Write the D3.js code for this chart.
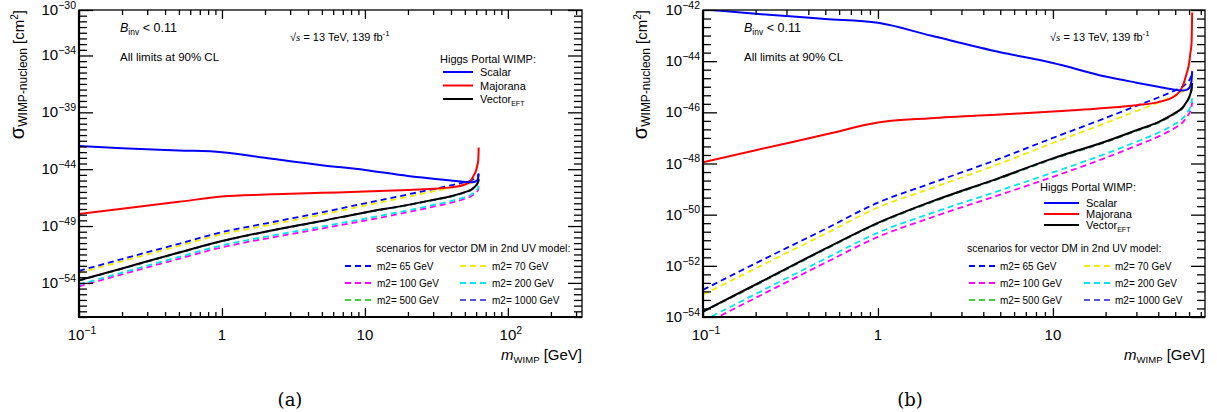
<!DOCTYPE html>
<html>
<head>
<meta charset="utf-8">
<script src="https://cdn.jsdelivr.net/npm/d3@7.9.0/dist/d3.min.js"></script>
<style>
  body { margin: 0; background: #fff; }
  svg { font-family: "Liberation Sans", Arial, sans-serif; }
  text { fill: #000; }
</style>
</head>
<body>
<svg id="chart" width="1217" height="412"></svg>
<script>
// WIMP mass points [GeV]
const masses = [0.1, 0.2, 0.5, 1, 2, 5, 10, 20, 30, 40, 50, 55, 58, 60, 61, 62, 62.5];

// log10(sigma_WIMP-nucleon / cm^2)
const scalar   = [-41.97, -42.15, -42.35, -42.5, -43.0, -43.65, -44.07, -44.6, -44.84, -45.0, -45.12, -45.15, -45.12, -45.05, -44.97, -44.75, -44.4];
const majorana = [-47.95, -47.48, -46.87, -46.4, -46.23, -46.08, -45.97, -45.83, -45.72, -45.6, -45.35, -45.0, -44.5, -44.1, -43.7, -43.3, -42.1];
const vectorEFT = [-53.78, -52.73, -51.33, -50.32, -49.5, -48.55, -47.8, -47.14, -46.7, -46.38, -46.02, -45.82, -45.6, -45.42, -45.28, -45.08, -44.85];

// 2nd UV model scenarios
const m2_65   = [-52.94, -51.9, -50.56, -49.53, -48.78, -47.8, -47.0, -46.22, -45.75, -45.42, -45.14, -45.0, -44.87, -44.76, -44.67, -44.52, -44.38];
const m2_70   = [-53.13, -52.1, -50.75, -49.72, -48.98, -48.0, -47.2, -46.42, -45.95, -45.62, -45.34, -45.2, -45.07, -44.97, -44.88, -44.74, -44.6];
const m2_100  = [-54.3, -53.25, -51.88, -50.87, -50.12, -49.22, -48.52, -47.78, -47.3, -46.95, -46.6, -46.4, -46.2, -46.05, -45.95, -45.78, -45.6];
const m2_200  = [-54.15, -53.1, -51.72, -50.7, -49.95, -49.05, -48.35, -47.62, -47.15, -46.8, -46.45, -46.25, -46.05, -45.9, -45.8, -45.62, -45.45];
const m2_500  = [-53.8, -52.76, -51.36, -50.35, -49.53, -48.58, -47.83, -47.17, -46.73, -46.41, -46.05, -45.85, -45.63, -45.45, -45.31, -45.11, -44.88];
const m2_1000 = [-53.79, -52.74, -51.34, -50.33, -49.51, -48.56, -47.81, -47.15, -46.71, -46.39, -46.03, -45.83, -45.61, -45.43, -45.29, -45.09, -44.86];

const mainNames = ['Scalar', 'Majorana', 'Vector'];
const scenarioNames = ['m2= 65 GeV', 'm2= 70 GeV', 'm2= 100 GeV', 'm2= 200 GeV', 'm2= 500 GeV', 'm2= 1000 GeV'];

const yLabelsA = [-30, -34, -39, -44, -49, -54];
const yLabelsB = [-42, -44, -46, -48, -50, -52, -54];

const mainSeries = [
  { name: 'Scalar', values: scalar, color: '#0000ff' },
  { name: 'Majorana', values: majorana, color: '#ff0000' },
  { name: 'Vector', values: vectorEFT, color: '#000000' },
];
// legend order (2 columns, row by row)
const scenSeries = [
  { values: m2_65, color: '#0000ff' },
  { values: m2_70, color: '#f2ea00' },
  { values: m2_100, color: '#ff00ff' },
  { values: m2_200, color: '#00e5ee' },
  { values: m2_500, color: '#44cc44' },
  { values: m2_1000, color: '#5555dd' },
];

const svg = d3.select('#chart');

const panels = [
  { id: 'a', left: 79, right: 582, top: 10, bottom: 317, xDomain: [0.1, 330], yDomain: [-57, -30],
    yLabels: yLabelsA, yStep: 0.5, xLabels: [[0.1, '10', '−1'], [1, '1'], [10, '10'], [100, '10', '2']],
    titleX: 24, caption: '(a)', capX: 290,
    binv: [120, 32], cl: [120, 61], ecm: [290, 41],
    leg: { x: 440, y: 63, lx: 443, lw: 30, row0: 72, dy: 13.5 },
    scen: { x: 376, y: 252, c1: 345, c2: 460, lw: 27, row0: 266, dy: 17 } },
  { id: 'b', left: 703, right: 1205, top: 10, bottom: 317, xDomain: [0.1, 74], yDomain: [-54, -42],
    yLabels: yLabelsB, yStep: 1 / 3, xLabels: [[0.1, '10', '−1'], [1, '1'], [10, '10']],
    titleX: 647, caption: '(b)', capX: 910,
    binv: [744, 32], cl: [744, 61], ecm: [1050, 41],
    leg: { x: 1040, y: 191, lx: 1044, lw: 35, row0: 203, dy: 11 },
    scen: { x: 967, y: 252, c1: 969, c2: 1084, lw: 26, row0: 266, dy: 17 } },
];

function supText(g, x, y, base, exp, anchor, size) {
  const t = g.append('text').attr('x', x).attr('y', y)
    .attr('text-anchor', anchor).attr('font-size', size);
  t.append('tspan').text(base);
  if (exp) t.append('tspan').attr('dy', -size * 0.42).attr('font-size', size * 0.7).text(exp);
  return t;
}

panels.forEach(p => {
  const x = d3.scaleLog().domain(p.xDomain).range([p.left, p.right]);
  const y = d3.scaleLinear().domain(p.yDomain).range([p.bottom, p.top]);
  const g = svg.append('g');

  g.append('clipPath').attr('id', 'clip' + p.id)
    .append('rect').attr('x', p.left).attr('y', p.top)
    .attr('width', p.right - p.left).attr('height', p.bottom - p.top);

  const line = d3.line()
    .x((d, i) => x(masses[i]))
    .y(d => y(d))
    .curve(d3.curveMonotoneX);

  const plot = g.append('g').attr('clip-path', `url(#clip${p.id})`);

  // dashed scenarios under the solid curves (draw 500/1000 first, then others)
  const scenOrder = [4, 5, 2, 3, 1, 0];
  plot.selectAll('path.scen')
    .data(scenOrder.map(i => scenSeries[i]))
    .join('path')
      .attr('class', 'scen')
      .attr('d', d => line(d.values))
      .attr('fill', 'none')
      .attr('stroke', d => d.color)
      .attr('stroke-width', 1.8)
      .attr('stroke-dasharray', '6,4');

  plot.selectAll('path.main')
    .data([mainSeries[2], mainSeries[1], mainSeries[0]])
    .join('path')
      .attr('class', 'main')
      .attr('d', d => line(d.values))
      .attr('fill', 'none')
      .attr('stroke', d => d.color)
      .attr('stroke-width', 2);

  // x ticks (inward, bottom and top)
  const majors = [0.1, 1, 10, 100].filter(v => v >= p.xDomain[0] && v <= p.xDomain[1]);
  const minors = [];
  [0.1, 1, 10, 100].forEach(dec => {
    for (let k = 2; k <= 9; k++) if (dec * k <= p.xDomain[1]) minors.push(dec * k);
  });
  g.append('g').attr('transform', `translate(0,${p.bottom})`).call(d3.axisBottom(x).tickValues(majors).tickSize(-9).tickFormat(''));
  g.append('g').attr('transform', `translate(0,${p.bottom})`).call(d3.axisBottom(x).tickValues(minors).tickSize(-5).tickFormat(''));
  g.append('g').attr('transform', `translate(0,${p.top})`).call(d3.axisTop(x).tickValues(majors).tickSize(-9).tickFormat(''));
  g.append('g').attr('transform', `translate(0,${p.top})`).call(d3.axisTop(x).tickValues(minors).tickSize(-5).tickFormat(''));

  // y ticks
  const yAll = d3.range(p.yDomain[0], p.yDomain[1] + 1e-6, p.yStep);
  const yMaj = yAll.filter(v => p.yLabels.some(l => Math.abs(l - v) < 1e-6));
  const yMin = yAll.filter(v => !yMaj.some(l => Math.abs(l - v) < 1e-6));
  g.append('g').attr('transform', `translate(${p.left},0)`).call(d3.axisLeft(y).tickValues(yMaj).tickSize(-14).tickFormat(''));
  g.append('g').attr('transform', `translate(${p.left},0)`).call(d3.axisLeft(y).tickValues(yMin).tickSize(-8).tickFormat(''));
  g.append('g').attr('transform', `translate(${p.right},0)`).call(d3.axisRight(y).tickValues(yMaj).tickSize(-14).tickFormat(''));
  g.append('g').attr('transform', `translate(${p.right},0)`).call(d3.axisRight(y).tickValues(yMin).tickSize(-8).tickFormat(''));

  g.selectAll('.domain').remove();
  g.selectAll('.tick line').attr('stroke', '#000').attr('stroke-width', 1.3);

  // frame
  g.append('rect').attr('x', p.left).attr('y', p.top)
    .attr('width', p.right - p.left).attr('height', p.bottom - p.top)
    .attr('fill', 'none').attr('stroke', '#000').attr('stroke-width', 1.3);
  g.append('path')
    .attr('d', `M${p.left},${p.top}V${p.bottom}H${p.right}`)
    .attr('fill', 'none').attr('stroke', '#000').attr('stroke-width', 2.2);

  // tick labels
  p.xLabels.forEach(([v, base, exp]) => {
    supText(g, x(v) + (exp ? 3 : 0), 340, base, exp, 'middle', 15);
  });
  p.yLabels.forEach(v => {
    supText(g, p.left - 3, y(v) + 5, '10', '−' + Math.abs(v), 'end', 15);
  });

  // axis titles
  const xt = g.append('text').attr('x', p.right).attr('y', 360).attr('text-anchor', 'end').attr('font-size', 15);
  xt.append('tspan').style('font-style', 'italic').text('m');
  xt.append('tspan').attr('dy', 3).attr('font-size', 9.5).text('WIMP');
  xt.append('tspan').attr('dy', -3).text(' [GeV]');

  const yt = g.append('text')
    .attr('transform', `translate(${p.titleX},${p.top}) rotate(-90)`)
    .attr('text-anchor', 'end').attr('font-size', 15);
  yt.append('tspan').attr('font-size', 20).text('σ');
  yt.append('tspan').attr('dy', 3).attr('font-size', 12).text('WIMP-nucleon');
  yt.append('tspan').attr('dy', -3).text(' [cm');
  yt.append('tspan').attr('dy', -6).attr('font-size', 10).text('2');
  yt.append('tspan').attr('dy', 6).text(']');

  // annotations
  const bt = g.append('text').attr('x', p.binv[0]).attr('y', p.binv[1]).attr('font-size', 12.5);
  bt.append('tspan').style('font-style', 'italic').text('B');
  bt.append('tspan').attr('dy', 3).attr('font-size', 8.5).text('inv');
  bt.append('tspan').attr('dy', -3).text(' < 0.11');
  g.append('text').attr('x', p.cl[0]).attr('y', p.cl[1]).attr('font-size', 11.5).text('All limits at 90% CL');
  const et = g.append('text').attr('x', p.ecm[0]).attr('y', p.ecm[1]).attr('font-size', 11);
  et.append('tspan').text('√');
  et.append('tspan').style('font-style', 'italic').style('font-family', '"Liberation Serif", serif').text('s');
  et.append('tspan').text(' = 13 TeV, 139 fb');
  et.append('tspan').attr('dy', -5).attr('font-size', 8).text('-1');

  // main legend
  const L = p.leg;
  g.append('text').attr('x', L.x).attr('y', L.y).attr('font-size', 11).text('Higgs Portal WIMP:');
  mainSeries.forEach((s, i) => {
    const ry = L.row0 + i * L.dy;
    g.append('line').attr('x1', L.lx).attr('x2', L.lx + L.lw).attr('y1', ry).attr('y2', ry)
      .attr('stroke', s.color).attr('stroke-width', 2);
    const t = g.append('text').attr('x', L.lx + L.lw + 7).attr('y', ry + 4).attr('font-size', 11);
    t.append('tspan').text(mainNames[i]);
    if (i === 2) t.append('tspan').attr('dy', 3).attr('font-size', 7).text('EFT');
  });

  // scenario legend
  const S = p.scen;
  g.append('text').attr('x', S.x).attr('y', S.y).attr('font-size', 10.5).text('scenarios for vector DM in 2nd UV model:');
  scenSeries.forEach((s, i) => {
    const col = i % 2, row = Math.floor(i / 2);
    const lx = col ? S.c2 : S.c1;
    const ry = S.row0 + row * S.dy;
    g.append('line').attr('x1', lx).attr('x2', lx + S.lw).attr('y1', ry).attr('y2', ry)
      .attr('stroke', s.color).attr('stroke-width', 1.8).attr('stroke-dasharray', '6,4');
    g.append('text').attr('x', lx + S.lw + 5).attr('y', ry + 4).attr('font-size', 10).text(scenarioNames[i]);
  });

  // caption
  g.append('text').attr('x', p.capX).attr('y', 406).attr('text-anchor', 'middle')
    .style('font-family', '"DejaVu Serif", "Liberation Serif", serif').attr('font-size', 18).text(p.caption);
});
</script>
</body>
</html>
